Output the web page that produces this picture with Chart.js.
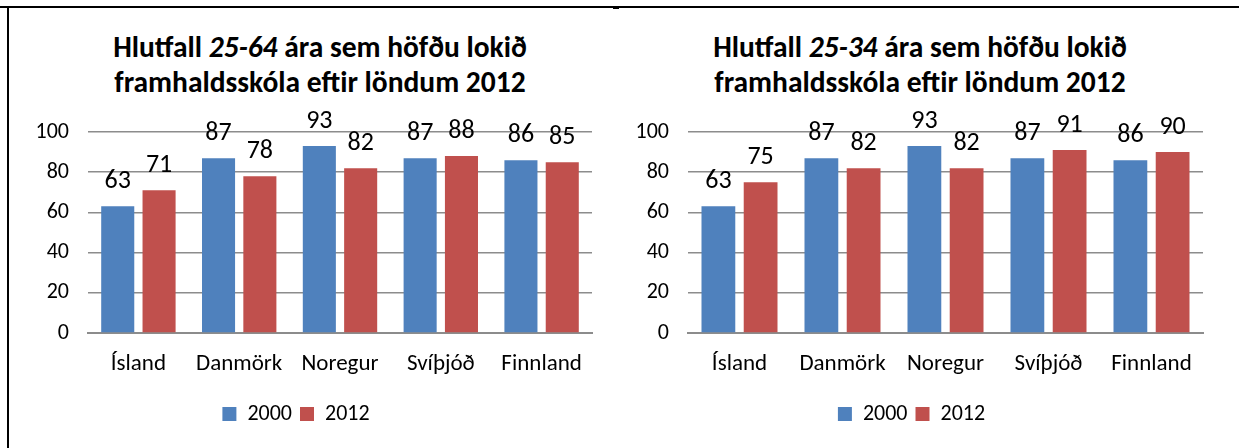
<!DOCTYPE html>
<html>
<head>
<meta charset="utf-8">
<script src="https://cdn.jsdelivr.net/npm/chart.js@4/dist/chart.umd.min.js"></script>
<style>
  body { margin: 0; background: #fff; width: 1239px; height: 448px; overflow: hidden; position: relative; font-family: Carlito, Lato, "Open Sans", sans-serif; }
  .frame-top { position: absolute; left: 0; top: 6px; width: 1239px; height: 2px; background: #000; }
  .frame-left { position: absolute; left: 7px; top: 6px; width: 2px; height: 442px; background: #000; }
  .tick { position: absolute; left: 613px; top: 7px; width: 6px; height: 2px; background: #000; }
  .title { position: absolute; top: 30px; width: 620px; text-align: center; font-weight: bold; font-size: 29.5px; line-height: 35px; color: #000; }
  .box { position: absolute; top: 0; height: 448px; }
</style>
</head>
<body>
<div class="frame-top"></div>
<div class="frame-left"></div>
<div class="tick"></div>
<div class="title" style="left:10px">Hlutfall <i>25-64</i> ára sem höfðu lokið<br>framhaldsskóla eftir löndum 2012</div>
<div class="title" style="left:610px">Hlutfall <i>25-34</i> ára sem höfðu lokið<br>framhaldsskóla eftir löndum 2012</div>
<div class="box" style="left:0;width:620px"><canvas id="c1" width="620" height="448"></canvas></div>
<div class="box" style="left:620px;width:619px"><canvas id="c2" width="619" height="448"></canvas></div>
<script>
const countries = ["Ísland", "Danmörk", "Noregur", "Svíþjóð", "Finnland"];
const seriesNames = ["2000", "2012"];
const left2000 = [63, 87, 93, 87, 86];
const left2012 = [71, 78, 82, 88, 85];
const right2000 = [63, 87, 93, 87, 86];
const right2012 = [75, 82, 82, 91, 90];
const yTicks = [0, 20, 40, 60, 80, 100];

const FONT = "Carlito, Lato, 'Open Sans', sans-serif";

const valueLabels = {
  id: "valueLabels",
  afterDatasetsDraw(chart) {
    const ctx = chart.ctx;
    ctx.save();
    ctx.font = "26px " + FONT;
    ctx.fillStyle = "#000";
    ctx.textAlign = "center";
    ctx.textBaseline = "middle";
    chart.data.datasets.forEach((ds, i) => {
      chart.getDatasetMeta(i).data.forEach((bar, j) => {
        ctx.fillText(ds.data[j], bar.x, bar.y - 25);
      });
    });
    ctx.restore();
  }
};

function makeChart(id, d2000, d2012, yWidth, padRight) {
  new Chart(document.getElementById(id), {
    type: "bar",
    data: {
      labels: countries,
      datasets: [
        { label: seriesNames[0], data: d2000, backgroundColor: "#4F81BD", categoryPercentage: 0.82, barPercentage: 0.8 },
        { label: seriesNames[1], data: d2012, backgroundColor: "#C0504D", categoryPercentage: 0.82, barPercentage: 0.8 }
      ]
    },
    options: {
      responsive: false,
      animation: false,
      layout: { padding: { top: 132, right: padRight, left: 0, bottom: 13 } },
      plugins: {
        title: { display: false },
        tooltip: { enabled: false },
        legend: {
          position: "bottom",
          labels: { font: { size: 22, family: FONT }, color: "#000", boxWidth: 14, boxHeight: 14, padding: 8 }
        }
      },
      scales: {
        x: {
          grid: { display: false },
          border: { display: true, color: "#8c8c8c", width: 2 },
          ticks: { font: { size: 23, family: FONT }, color: "#000", padding: 9, maxRotation: 0 },
          afterFit(s) { s.height = 62; }
        },
        y: {
          min: 0, max: 100,
          afterBuildTicks(s) { s.ticks = yTicks.map(v => ({ value: v })); },
          grid: { color: "#8c8c8c", lineWidth: 1.5, drawTicks: false },
          border: { display: false },
          ticks: { font: { size: 22, family: FONT }, color: "#000", padding: 19 },
          afterFit(s) { s.width = yWidth; }
        }
      }
    },
    plugins: [valueLabels]
  });
}

makeChart("c1", left2000, left2012, 88, 28);
makeChart("c2", right2000, right2012, 68, 36);
</script>
</body>
</html>
